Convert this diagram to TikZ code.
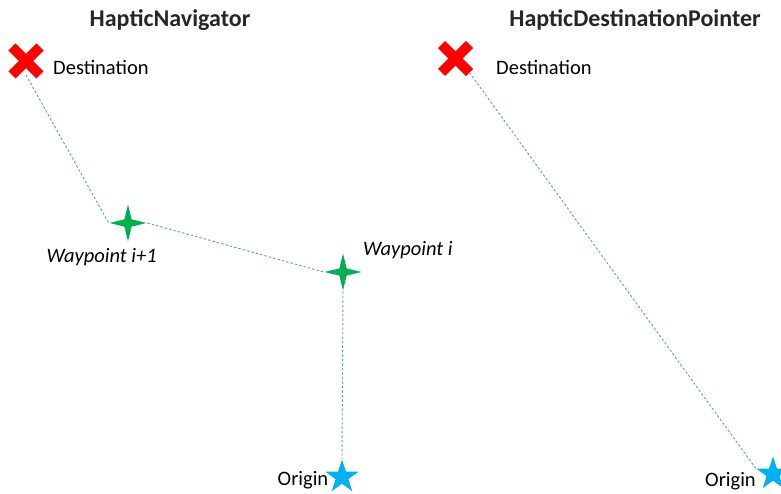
\documentclass[tikz,border=0pt]{standalone}
\usepackage{fontspec}
\setmainfont{Carlito}
\usepackage{xcolor}
\usetikzlibrary{positioning}
\usetikzlibrary{shapes.geometric, shapes.misc}

\definecolor{linkblue}{RGB}{91,155,213}
\definecolor{wpgreen}{RGB}{0,176,80}
\definecolor{startblue}{RGB}{0,176,240}

\begin{document}
\begin{tikzpicture}[x=1pt, y=-1pt,
    link/.style={draw=linkblue, line width=0.9pt, dash pattern=on 2.5pt off 2pt},
    dest/.style={cross out, draw=red, line width=10pt, minimum size=18pt, inner sep=0pt},
    waypoint/.style={star, star points=4, star point ratio=3.6, fill=wpgreen, minimum size=37pt, inner sep=0pt},
    startpt/.style={star, star points=5, star point ratio=2.6, fill=startblue, minimum size=35pt, inner sep=0pt},
    headline/.style={font=\fontsize{24}{28}\selectfont\bfseries, anchor=base, text=black!85},
    lbl/.style={font=\fontsize{20.5}{24}\selectfont, anchor=base west, inner sep=0pt}]
  \def\gap{27}

  \clip (0,0) rectangle (781,494);

  % left: route through waypoints
  \node[headline] (titleA) at (170,26.7) {HapticNavigator};

  \node[dest] (dstA) at (26,61) {};
  \path (dstA.center) ++(\gap,13.5) node[lbl] (dstAtxt) {Destination};

  \node[waypoint] (wp1) at (128,223) {};
  \path (wp1.center) ++(-81.5,39.3) node[lbl, font=\fontsize{20.5}{24}\selectfont\itshape] (wp1txt) {Waypoint i+1};

  \node[waypoint] (wp0) at (343,272) {};
  \path (wp0.center) ++(20,-17) node[lbl, font=\fontsize{20.5}{24}\selectfont\itshape] (wp0txt) {Waypoint i};

  \node[startpt] (orgA) at (342,477) {};
  \path (orgA.center) ++(-64.5,8) node[lbl] (orgAtxt) {Origin};

  \draw[link] (dstA.south) -- (wp1.west);
  \draw[link] (wp1.east) -- (wp0.west);
  \draw[link] (wp0.south) -- (orgA.north);

  % right: straight to the destination
  \node[headline] (titleB) at (635,26.7) {HapticDestinationPointer};

  \node[dest] (dstB) at (455.5,58.5) {};
  \path (dstB.center) ++(40.5,16.5) node[lbl] (dstBtxt) {Destination};

  \node[startpt] (orgB) at (773,474) {};
  \path (orgB.center) ++(-68,12) node[lbl] (orgBtxt) {Origin};

  \draw[link] (dstB.south east) -- (orgB.outer point 2);
\end{tikzpicture}
\end{document}
